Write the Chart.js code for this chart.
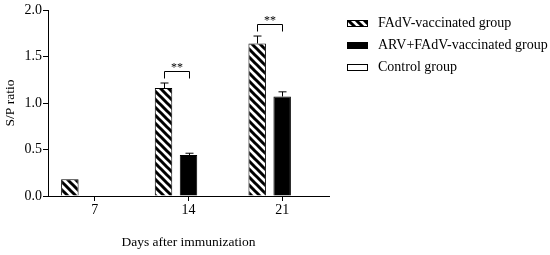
<!DOCTYPE html>
<html lang="en">
<head>
    <meta charset="UTF-8">
    <title>S/P ratio</title>
    <script src="https://cdn.jsdelivr.net/npm/chart.js"></script>
    <style>
        html, body { margin: 0; padding: 0; background: #fff; }
        #box { width: 550px; height: 255px; }
    </style>
</head>
<body>
    <div id="box"><canvas id="spChart"></canvas></div>

    <script>
        // values
        const days = ['7', '14', '21'];
        const groupNames = ['FAdV-vaccinated group', 'ARV+FAdV-vaccinated group', 'Control group'];
        const fadvMeans = [0.18, 1.16, 1.64];
        const fadvErrors = [0.0, 0.055, 0.08];
        const arvMeans = [0, 0.44, 1.07];
        const arvErrors = [0, 0.02, 0.05];
        const controlMeans = [0, 0, 0];
        const controlErrors = [0, 0, 0];
        const bracketLevels = [null, 1.34, 1.85];   // "**" between FAdV and ARV+FAdV
        const yTicks = [0, 0.5, 1.0, 1.5, 2.0];

        const FONT = '"Liberation Serif", "Times New Roman", serif';

        // diagonal hatch for the FAdV bars
        function makeHatch() {
            const size = 8;
            const c = document.createElement('canvas');
            c.width = size; c.height = size;
            const g = c.getContext('2d');
            g.fillStyle = '#fff';
            g.fillRect(0, 0, size, size);
            g.strokeStyle = '#000';
            g.lineWidth = 3;
            g.beginPath();
            g.moveTo(-2, -2); g.lineTo(size + 2, size + 2);
            g.moveTo(-size - 2, -2); g.lineTo(2, size + 2);
            g.moveTo(size - 2, -2); g.lineTo(2 * size + 2, size + 2);
            g.stroke();
            return g.createPattern(c, 'repeat');
        }
        const hatch = makeHatch();

        const errorSets = [fadvErrors, arvErrors, controlErrors];

        const errorBars = {
            id: 'errorBars',
            afterDatasetsDraw(chart) {
                const ctx = chart.ctx;
                const y = chart.scales.y;
                ctx.save();
                ctx.strokeStyle = '#000';
                ctx.lineWidth = 1;
                chart.data.datasets.forEach((ds, di) => {
                    const meta = chart.getDatasetMeta(di);
                    meta.data.forEach((bar, i) => {
                        const err = errorSets[di][i];
                        if (!err) return;
                        const x = Math.round(bar.x) + 0.5;
                        const top = y.getPixelForValue(ds.data[i] + err);
                        ctx.beginPath();
                        ctx.moveTo(x, bar.y);
                        ctx.lineTo(x, top);
                        ctx.moveTo(x - 4, top);
                        ctx.lineTo(x + 4, top);
                        ctx.stroke();
                    });
                });
                // significance brackets
                const m0 = chart.getDatasetMeta(0).data;
                const m1 = chart.getDatasetMeta(1).data;
                ctx.font = '12px ' + FONT;
                ctx.fillStyle = '#000';
                ctx.textAlign = 'center';
                ctx.textBaseline = 'bottom';
                bracketLevels.forEach((lvl, i) => {
                    if (lvl === null) return;
                    const x0 = Math.round(m0[i].x) + 0.5;
                    const x1 = Math.round(m1[i].x) + 0.5;
                    const yy = Math.round(y.getPixelForValue(lvl)) + 0.5;
                    ctx.beginPath();
                    ctx.moveTo(x0, yy + 7);
                    ctx.lineTo(x0, yy);
                    ctx.lineTo(x1, yy);
                    ctx.lineTo(x1, yy + 7);
                    ctx.stroke();
                    ctx.fillText('**', (x0 + x1) / 2, yy + 2);
                });
                ctx.restore();
            }
        };

        const sideLegend = {
            id: 'sideLegend',
            afterDraw(chart) {
                const ctx = chart.ctx;
                ctx.save();
                ctx.font = '14px ' + FONT;
                ctx.textBaseline = 'middle';
                ctx.textAlign = 'left';
                chart.data.datasets.forEach((ds, i) => {
                    const cy = 23 + i * 22;
                    ctx.fillStyle = ds.backgroundColor;
                    ctx.fillRect(347, cy - 3, 21, 7);
                    ctx.strokeStyle = '#000';
                    ctx.lineWidth = 1;
                    ctx.strokeRect(347.5, cy - 2.5, 20, 6);
                    ctx.fillStyle = '#000';
                    ctx.fillText(ds.label, 378, cy);
                });
                ctx.restore();
            }
        };

        const ctx = document.getElementById('spChart').getContext('2d');
        new Chart(ctx, {
            type: 'bar',
            data: {
                labels: days,
                datasets: [
                    { label: groupNames[0], data: fadvMeans, backgroundColor: hatch },
                    { label: groupNames[1], data: arvMeans, backgroundColor: '#000' },
                    { label: groupNames[2], data: controlMeans, backgroundColor: '#fff' }
                ]
            },
            options: {
                responsive: true,
                maintainAspectRatio: false,
                animation: false,
                layout: { padding: { top: 10, right: 221, left: 0, bottom: 0 } },
                datasets: {
                    bar: {
                        borderColor: '#000',
                        borderWidth: 1,
                        borderSkipped: 'bottom',
                        categoryPercentage: 0.8,
                        barPercentage: 0.7
                    }
                },
                plugins: {
                    legend: { display: false },
                    tooltip: { enabled: false }
                },
                scales: {
                    x: {
                        grid: { display: true, drawOnChartArea: false, offset: false, tickLength: 5, color: '#000' },
                        border: { color: '#000', width: 1 },
                        ticks: { color: '#000', font: { family: FONT, size: 14 }, padding: 1 },
                        title: {
                            display: true,
                            text: 'Days after immunization',
                            color: '#000',
                            font: { family: FONT, size: 13.5 },
                            padding: { top: 0, bottom: 4 }
                        },
                        afterFit(scale) { scale.height = 59; }
                    },
                    y: {
                        min: 0,
                        max: 2,
                        afterBuildTicks(scale) { scale.ticks = yTicks.map(v => ({ value: v })); },
                        grid: { display: true, drawOnChartArea: false, tickLength: 5, color: '#000' },
                        border: { color: '#000', width: 1 },
                        ticks: {
                            color: '#000',
                            font: { family: FONT, size: 14 },
                            padding: 1,
                            callback: v => v.toFixed(1)
                        },
                        title: {
                            display: true,
                            text: 'S/P ratio',
                            color: '#000',
                            font: { family: FONT, size: 13.5 },
                            padding: { top: 2, bottom: 0 }
                        },
                        afterFit(scale) { scale.width = 48; }
                    }
                }
            },
            plugins: [errorBars, sideLegend]
        });
    </script>
</body>
</html>
